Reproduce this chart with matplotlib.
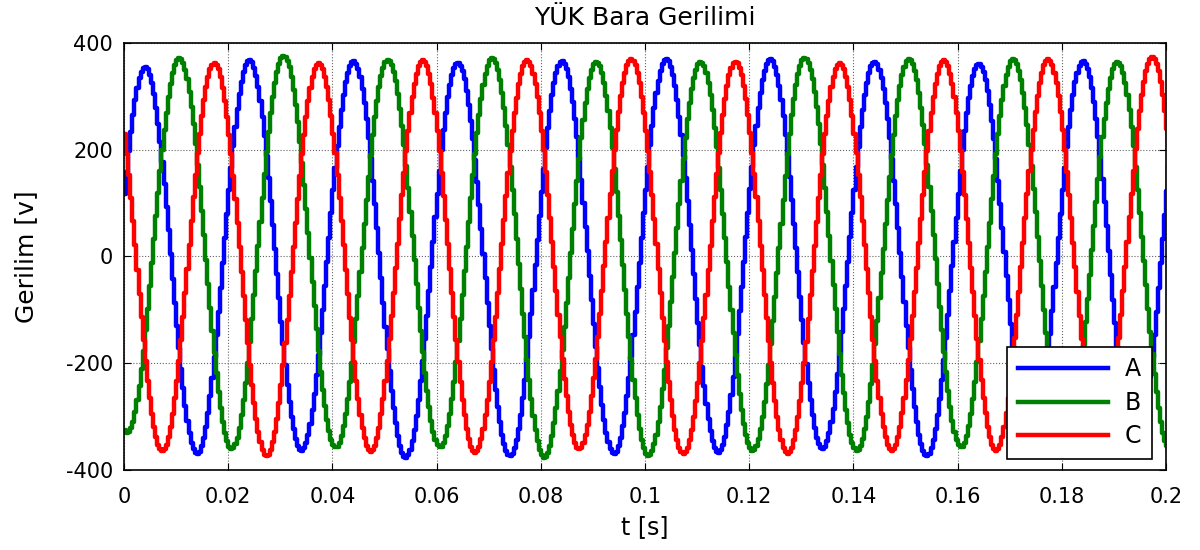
import numpy as np
import matplotlib
matplotlib.use('Agg')
import matplotlib.pyplot as plt
from matplotlib.ticker import FormatStrFormatter

plt.rcParams['font.family'] = ['DejaVu Sans']
plt.rcParams['axes.unicode_minus'] = False

# peak / trough values, alternating, one every half period
half_period = 0.01
a_start = -0.0061
a_ext = [-365, 355, -370, 368, -364, 366, -377, 362, -374, 366, -370,
         370, -368, 370, -361, 365, -374, 360, -366, 366, -368, 365]
b_start = -0.0095
b_ext = [365, -330, 372, -361, 376, -358, 368, -358, 372, -377, 365,
         -374, 365, -364, 372, -364, 370, -358, 370, -365, 365, -360]
c_start = -0.0028
c_ext = [360, -364, 362, -374, 362, -366, 368, -368, 368, -361, 370,
         -370, 365, -370, 362, -364, 368, -364, 370, -365, 373, -365]

labels = ['A', 'B', 'C']
colors = ['#0000ff', '#008000', '#ff0000']
xticks = [0, 0.02, 0.04, 0.06, 0.08, 0.1, 0.12, 0.14, 0.16, 0.18, 0.2]
yticks = [-400, -200, 0, 200, 400]

dt = 0.0004
t = np.arange(0, 0.2 + dt, dt)


def wave(start, ext):
    # half-cosine between the read extrema
    ext = np.array(ext, dtype=float)
    tt = start + half_period * np.arange(len(ext))
    idx = np.clip(np.searchsorted(tt, t, side='right') - 1, 0, len(ext) - 2)
    s = (t - tt[idx]) / half_period
    lo, hi = ext[idx], ext[idx + 1]
    return (lo + hi) / 2 + (lo - hi) / 2 * np.cos(np.pi * s)


fig = plt.figure(figsize=(12, 5.5), dpi=100)
fig.set_facecolor('white')
ax = fig.add_axes([0.1033, 0.1455, 0.8684, 0.7763])

for (start, ext), lab, col in zip([(a_start, a_ext), (b_start, b_ext), (c_start, c_ext)],
                                  labels, colors):
    ax.plot(t, wave(start, ext), color=col, lw=3.2, drawstyle='steps-post', label=lab)

ax.set_xlim(0, 0.2)
ax.set_ylim(-400, 400)
ax.set_xticks(xticks)
ax.set_yticks(yticks)
ax.xaxis.set_major_formatter(FormatStrFormatter('%g'))
ax.tick_params(direction='in', top=True, right=True, labelsize=15, length=5)
ax.tick_params(axis='x', pad=12)
ax.tick_params(axis='y', pad=8)
ax.grid(True, linestyle=':', color='#666666', lw=0.8)
for sp in ax.spines.values():
    sp.set_linewidth(1.2)

ax.set_title('YÜK Bara Gerilimi', fontsize=18, pad=13)
ax.set_xlabel('t [s]', fontsize=17, labelpad=6)
ax.set_ylabel('Gerilim [v]', fontsize=18, labelpad=20)

leg = ax.legend(loc='lower right', bbox_to_anchor=(0.9866, 0.0258), fontsize=17,
                handlelength=3.85, handletextpad=0.7, fancybox=False, framealpha=1,
                edgecolor='black', borderpad=0.45, labelspacing=0.4, borderaxespad=0)
leg.get_frame().set_linewidth(1.2)

plt.savefig('out.png', dpi=100)
